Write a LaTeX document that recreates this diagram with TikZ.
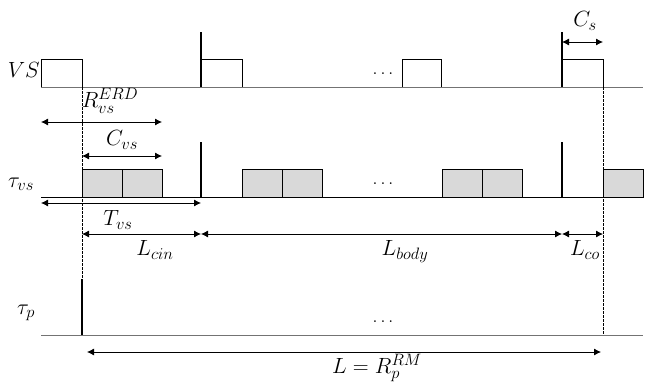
\RequirePackage{fix-cm}
\documentclass[tikz,border=0pt]{standalone}
\usetikzlibrary{arrows.meta}
\DeclareMathSizes{22}{22}{16.5}{12}
\begin{document}
\begin{tikzpicture}[x=1pt,y=-1pt,
  base/.style={draw=black!55,line width=1pt},
  pulse/.style={draw=black,line width=1pt},
  task/.style={draw=black,line width=0.9pt,fill=black!15},
  bar/.style={draw=black,line width=2.2pt},
  dim/.style={draw=black,line width=0.8pt,{Latex[length=7pt,width=7pt]}-{Latex[length=7pt,width=7pt]}},
  guide/.style={draw=black,line width=0.6pt,dash pattern=on 2.5pt off 1.5pt},
  lbl/.style={inner sep=0pt,font=\fontsize{22}{26}\selectfont},
  dotlbl/.style={inner sep=0pt,font=\fontsize{18}{22}\selectfont}]
\useasboundingbox (0,0) rectangle (652,383);
% --- VS row
\coordinate (vsL) at (41,87); \coordinate (vsR) at (643,87);
\draw[base] (vsL) -- (vsR);
\draw[pulse] (41,87) |- (82,59) -- (82,87);
\draw[pulse] (201,59) -- (242,59) -- (242,87);
\draw[pulse] (402,87) |- (441,59) -- (441,87);
\draw[pulse] (562,59) -- (603,59) -- (603,87);
\coordinate (b1t) at (201,32); \coordinate (b1b) at (201,87);
\coordinate (b2t) at (562,32); \coordinate (b2b) at (562,87);
\draw[bar] (b1t) -- (b1b);
\draw[bar] (b2t) -- (b2b);
\node[lbl,anchor=east] (vs) at (40,70) {$VS$};
\node[dotlbl] (dots1) at (383,74) {$\dots$};
% C_s
\coordinate (cs1) at (562,42); \coordinate (cs2) at (603,42);
\draw[dim] (cs1) -- (cs2);
\node[lbl] (cslbl) at (585,21) {$C_s$};
% R_vs^ERD
\coordinate (r1) at (41,122); \coordinate (r2) at (162,122);
\draw[dim] (r1) -- (r2);
\node[lbl] (rlbl) at (110,101) {$R_{vs}^{ERD}$};
% C_vs
\coordinate (c1) at (82,156); \coordinate (c2) at (162,156);
\draw[dim] (c1) -- (c2);
\node[lbl] (clbl) at (122,140) {$C_{vs}$};
% --- tau_vs row
\draw[task] (82,169) rectangle (122,197);
\draw[task] (122,169) rectangle (162,197);
\draw[task] (242,169) rectangle (282,197);
\draw[task] (282,169) rectangle (322,197);
\draw[task] (442,169) rectangle (482,197);
\draw[task] (482,169) rectangle (522,197);
\draw[task] (603,169) rectangle (643,197);
\coordinate (tvL) at (41,197); \coordinate (tvR) at (643,197);
\draw[draw=black,line width=1pt] (tvL) -- (tvR);
\coordinate (b3t) at (201,142); \coordinate (b3b) at (201,197);
\coordinate (b4t) at (562,142); \coordinate (b4b) at (562,197);
\draw[bar] (b3t) -- (b3b);
\draw[draw=black,line width=1.6pt] (b4t) -- (b4b);
\node[lbl] (tauvs) at (21,184) {$\tau_{vs}$};
\node[dotlbl] (dots2) at (383,184) {$\dots$};
% T_vs
\coordinate (t1) at (41,203); \coordinate (t2) at (201,203);
\draw[dim] (t1) -- (t2);
\node[lbl] (tlbl) at (118,220) {$T_{vs}$};
% L_cin, L_body, L_co
\coordinate (l0) at (82,234); \coordinate (l1) at (201,234);
\coordinate (l2) at (562,234); \coordinate (l3) at (603,234);
\draw[dim] (l0) -- (l1);
\draw[dim] (l1) -- (l2);
\draw[dim] (l2) -- (l3);
\node[lbl] (lcin) at (155,250) {$L_{cin}$};
\node[lbl] (lbody) at (405,252) {$L_{body}$};
\node[lbl] (lco) at (585,250) {$L_{co}$};
% --- tau_p row
\coordinate (tpL) at (41,335); \coordinate (tpR) at (643,335);
\draw[base] (tpL) -- (tpR);
\coordinate (b5t) at (82,279); \coordinate (b5b) at (82,335);
\draw[bar] (b5t) -- (b5b);
\node[lbl] (taup) at (26,313) {$\tau_p$};
\node[dotlbl] (dots3) at (383,322) {$\dots$};
% guides
\coordinate (g1t) at (82,87); \coordinate (g2t) at (603,87);
\draw[guide] (g1t) -- (b5t);
\draw[guide] (g2t) -- (603,335);
% L = R_p^RM
\coordinate (p1) at (87,352); \coordinate (p2) at (601,352);
\draw[dim] (p1) -- (p2);
\node[lbl] (plbl) at (377,368) {$L = R_p^{RM}$};
\end{tikzpicture}
\end{document}
